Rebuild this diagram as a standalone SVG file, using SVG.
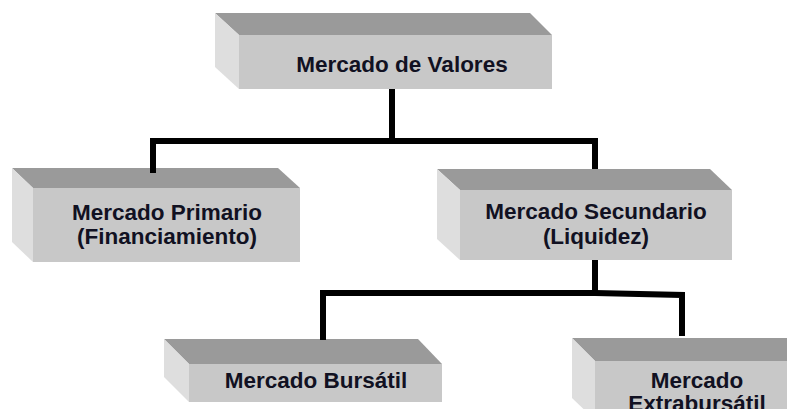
<svg xmlns="http://www.w3.org/2000/svg" width="787" height="409" viewBox="0 0 787 409">
<style>
.top{fill:#9a9a9a}
.front{fill:#c8c8c8}
.side{fill:#dedede}
.lbl{font-family:"Liberation Sans",Arial,sans-serif;font-weight:bold;font-size:22.5px;fill:#111122;text-anchor:middle}
.conn{fill:none;stroke:#000;stroke-width:6;stroke-linejoin:miter;stroke-linecap:butt}
</style>
<rect width="787" height="409" fill="#fff"/>
<g id="n-valores">
<polygon class="top" points="215,13 530,13 552,35 239,35"/>
<polygon class="side" points="215,13 239,35 239,89 215,67"/>
<rect class="front" x="239" y="35" width="313" height="54"/>
<text class="lbl" x="402" y="72">Mercado de Valores</text>
</g>
<g id="n-primario">
<polygon class="top" points="12,168 278,168 300,188 33,188"/>
<polygon class="side" points="12,168 33,188 33,262 12,242"/>
<rect class="front" x="33" y="188" width="267" height="74"/>
<text class="lbl" x="167" y="220">Mercado Primario</text>
<text class="lbl" x="167" y="244">(Financiamiento)</text>
</g>
<g id="n-secundario">
<polygon class="top" points="437,169 710,169 732,190 460,190"/>
<polygon class="side" points="437,169 460,190 460,260 437,239"/>
<rect class="front" x="460" y="190" width="272" height="70"/>
<text class="lbl" x="596" y="219">Mercado Secundario</text>
<text class="lbl" x="596" y="244">(Liquidez)</text>
</g>
<g id="n-bursatil">
<polygon class="top" points="164,339 418,339 442,364 189,364"/>
<polygon class="side" points="164,339 189,364 189,402 164,377"/>
<rect class="front" x="189" y="364" width="253" height="38"/>
<text class="lbl" x="316" y="388">Mercado Bursátil</text>
</g>
<g id="n-extrabursatil">
<polygon class="top" points="572,338 800,338 822,361 595,361"/>
<polygon class="side" points="572,338 595,361 595,420 572,398"/>
<rect class="front" x="595" y="361" width="200" height="60"/>
<text class="lbl" x="697" y="388">Mercado</text>
<text class="lbl" x="697" y="411">Extrabursátil</text>
</g>
<g id="connectors">
<path class="conn" d="M392,89 V141"/>
<path class="conn" d="M153,173 V141 H598"/>
<path class="conn" d="M595,141 V169"/>
<path class="conn" d="M595,260 V293"/>
<path class="conn" d="M323,340 V293 L595,293 L682,295 V336"/>
</g>
</svg>
